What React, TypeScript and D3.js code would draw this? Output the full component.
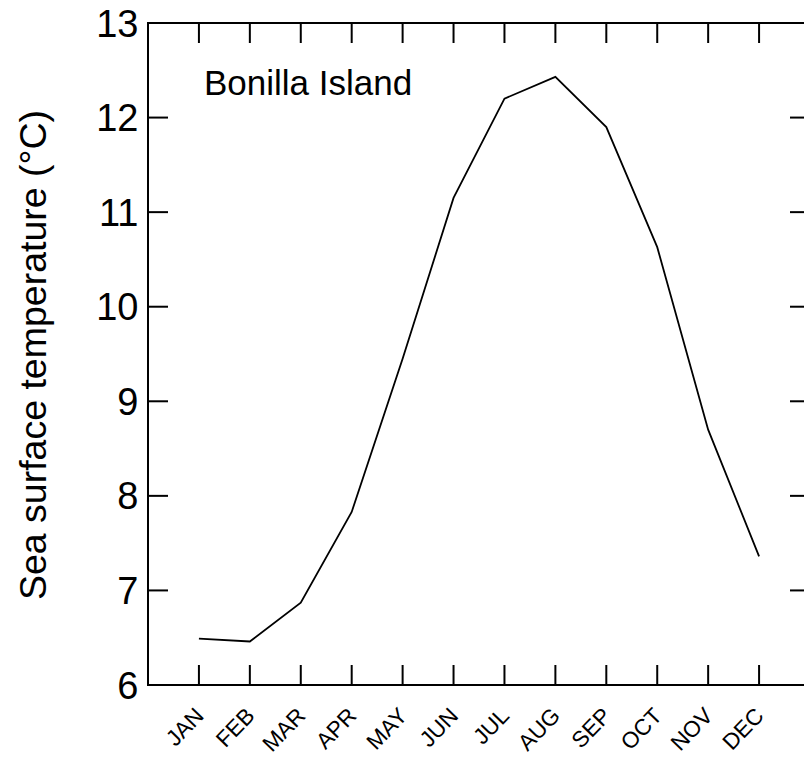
import React from "react";
import * as d3 from "d3";

const months = ["JAN", "FEB", "MAR", "APR", "MAY", "JUN", "JUL", "AUG", "SEP", "OCT", "NOV", "DEC"];
const temps = [6.49, 6.46, 6.87, 7.83, 9.45, 11.15, 12.2, 12.43, 11.9, 10.63, 8.7, 7.36];
const yTicks = [6, 7, 8, 9, 10, 11, 12, 13];
const title = "Bonilla Island";
const yLabel = "Sea surface temperature (°C)";

const W = 804;
const H = 757;
const left = 148;
const right = 810;
const top = 23;
const bottom = 685;
const FONT = "'Liberation Sans', Arial, Helvetica, sans-serif";

export default function App() {
  const x = d3.scaleLinear().domain([0, 13]).range([left, right]);
  const y = d3.scaleLinear().domain([6, 13]).range([bottom, top]);
  const line = d3
    .line<number>()
    .x((_, i) => x(i + 1))
    .y((d) => y(d));
  const tl = 20;
  return (
    <svg
      width={W}
      height={H}
      style={{ position: "absolute", left: 0, top: 0, background: "#fff" }}
      fontFamily={FONT}
    >
      <rect x={0} y={0} width={W} height={H} fill="#fff" />
      {/* frame */}
      <rect x={left} y={top} width={right - left} height={bottom - top} fill="none" stroke="#000" strokeWidth={2} />
      {/* y ticks */}
      {yTicks.map((t) => (
        <g key={"y" + t}>
          <line x1={left} x2={left + tl} y1={y(t)} y2={y(t)} stroke="#000" strokeWidth={2} />
          <line x1={right} x2={right - tl} y1={y(t)} y2={y(t)} stroke="#000" strokeWidth={2} />
          <text x={138.5} y={y(t) + 13.6} textAnchor="end" fontSize={38} fill="#000">
            {t}
          </text>
        </g>
      ))}
      {/* x ticks */}
      {months.map((m, i) => (
        <g key={m}>
          <line x1={x(i + 1)} x2={x(i + 1)} y1={bottom} y2={bottom - tl} stroke="#000" strokeWidth={2} />
          <line x1={x(i + 1)} x2={x(i + 1)} y1={top} y2={top + tl} stroke="#000" strokeWidth={2} />
          <text
            transform={`translate(${x(i + 1) + 6},${717}) rotate(-46)`}
            textAnchor="end"
            fontSize={22.5}
            fill="#000"
          >
            {m}
          </text>
        </g>
      ))}
      {/* data line */}
      <path d={line(temps) || ""} fill="none" stroke="#000" strokeWidth={1.8} strokeLinejoin="miter" />
      {/* title */}
      <text x={204} y={95} fontSize={35} fill="#000">
        {title}
      </text>
      {/* y axis label */}
      <text
        transform={`translate(46,355) rotate(-90)`}
        textAnchor="middle"
        fontSize={37.5}
        fill="#000"
      >
        {yLabel}
      </text>
    </svg>
  );
}
